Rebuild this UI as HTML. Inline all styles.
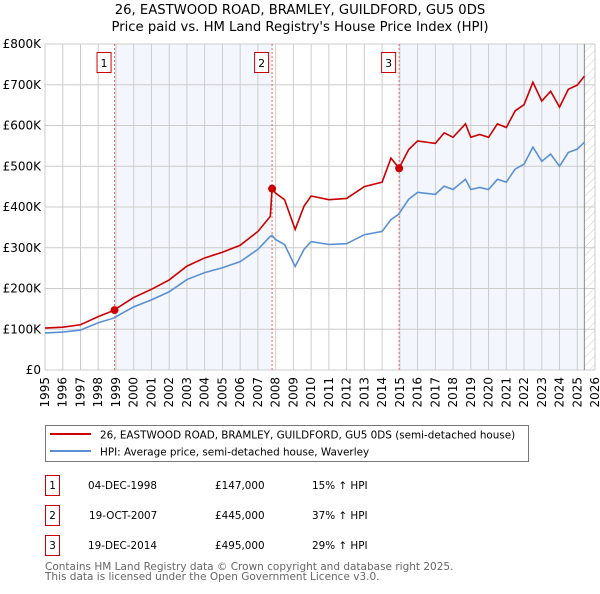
<!DOCTYPE html>
<html><head><meta charset="utf-8"><style>
body{margin:0;background:#fff;font-family:"DejaVu Sans","Liberation Sans",sans-serif;}
svg text{font-family:"DejaVu Sans","Liberation Sans",sans-serif;}
</style></head><body>
<svg id="c" width="600" height="590" xmlns="http://www.w3.org/2000/svg">
<defs><pattern id="hatch" width="6" height="6" patternUnits="userSpaceOnUse" patternTransform="rotate(45)"><line x1="0" y1="0" x2="0" y2="6" stroke="#ccc" stroke-width="1"/></pattern></defs>
<text x="300" y="14" text-anchor="middle" font-size="13.2">26, EASTWOOD ROAD, BRAMLEY, GUILDFORD, GU5 0DS</text>
<text x="300" y="31" text-anchor="middle" font-size="13.2">Price paid vs. HM Land Registry's House Price Index (HPI)</text>
<g id="plot"></g>
<g>
<rect x="45.5" y="425.5" width="483" height="36" fill="#fff" stroke="#777"/>
<line x1="50" y1="434" x2="91" y2="434" stroke="#cc0000" stroke-width="2"/>
<text x="100" y="438.5" font-size="10.4">26, EASTWOOD ROAD, BRAMLEY, GUILDFORD, GU5 0DS (semi-detached house)</text>
<line x1="50" y1="451" x2="91" y2="451" stroke="#5b8fd4" stroke-width="2"/>
<text x="100" y="455.5" font-size="10.4">HPI: Average price, semi-detached house, Waverley</text>
</g>
<g font-size="10.4">
<rect x="45.5" y="475.5" width="14" height="20" fill="#fff" stroke="#cc0000"/><text x="52.5" y="489" text-anchor="middle">1</text>
<text x="88" y="489">04-DEC-1998</text><text x="215" y="489">£147,000</text><text x="312" y="489">15% ↑ HPI</text>
<rect x="45.5" y="505.5" width="14" height="20" fill="#fff" stroke="#cc0000"/><text x="52.5" y="519" text-anchor="middle">2</text>
<text x="89" y="519">19-OCT-2007</text><text x="215" y="519">£445,000</text><text x="312" y="519">37% ↑ HPI</text>
<rect x="45.5" y="535.5" width="14" height="20" fill="#fff" stroke="#cc0000"/><text x="52.5" y="549" text-anchor="middle">3</text>
<text x="88" y="549">19-DEC-2014</text><text x="215" y="549">£495,000</text><text x="312" y="549">29% ↑ HPI</text>
</g>
<text x="45" y="570" font-size="10.5" fill="#666">Contains HM Land Registry data © Crown copyright and database right 2025.</text>
<text x="45" y="580" font-size="10.5" fill="#666">This data is licensed under the Open Government Licence v3.0.</text>
</svg>
<script>
const dates=[1995,1996,1997,1998,1998.92,1999,2000,2001,2002,2003,2004,2005,2006,2007,2007.7,2007.8,2008,2008.5,2009.1,2009.6,2010,2011,2012,2013,2014,2014.5,2014.96,2015,2015.5,2016,2017,2017.5,2018,2018.7,2019,2019.5,2020,2020.5,2021,2021.5,2022,2022.5,2023,2023.5,2024,2024.5,2025,2025.4];
const hpiValues=[91,93,98,116,128,131,155,172,192,222,239,251,266,296,328,330,320,308,254,296,315,308,310,332,340,369,383,387,419,436,431,451,443,468,443,448,443,468,461,493,505,547,512,530,500,534,542,559];
const priceValues=[103,105,111,131,147,150,178,198,221,255,275,289,306,340,377,445,434,418,345,402,427,418,421,450,461,520,495,499,541,562,556,582,571,604,571,578,571,604,595,636,651,706,660,684,645,689,699,721];
const saleDates=[1998.92,2007.8,2014.96];
const saleValues=[147,445,495];
const yTicks=[0,100,200,300,400,500,600,700,800];
const yTickLabels=["£0","£100K","£200K","£300K","£400K","£500K","£600K","£700K","£800K"];
const xTicks=[1995,1996,1997,1998,1999,2000,2001,2002,2003,2004,2005,2006,2007,2008,2009,2010,2011,2012,2013,2014,2015,2016,2017,2018,2019,2020,2021,2022,2023,2024,2025,2026];
const NS="http://www.w3.org/2000/svg";
const L=45,R=595,T=44,B=370,x0=1995,x1=2026,yMax=800;
const xs=v=>L+(v-x0)/(x1-x0)*(R-L);
const ys=v=>B-v/yMax*(B-T);
const g=document.getElementById('plot');
function mk(t,a){const e=document.createElementNS(NS,t);for(const k in a)e.setAttribute(k,a[k]);g.appendChild(e);return e;}
let e;
e=mk('rect',{x:L,y:T,width:R-L,height:B-T,fill:'#fff'});


e=mk('rect',{x:xs(saleDates[0]),y:T,width:xs(saleDates[1])-xs(saleDates[0]),height:B-T,fill:'#eef3fc',opacity:0.7});


e=mk('rect',{x:xs(saleDates[2]),y:T,width:xs(2025.4)-xs(saleDates[2]),height:B-T,fill:'#eef3fc',opacity:0.7});


e=mk('rect',{x:xs(2025.4),y:T,width:R-xs(2025.4),height:B-T,fill:'url(#hatch)'});


xTicks.forEach((v,i)=>{
 e=mk('line',{x1:xs(v),x2:xs(v),y1:T,y2:B,stroke:'#ccc','stroke-width':1});
 
 
 e=mk('text',{x:0,y:0,transform:`translate(${xs(v)+4},${B+7}) rotate(-90)`,'text-anchor':'end','font-size':'12'});
 e.textContent=v;
 
 
});
yTicks.forEach((v,i)=>{
 e=mk('line',{x1:L,x2:R,y1:ys(v),y2:ys(v),stroke:'#ccc','stroke-width':1});
 
 
 e=mk('text',{x:L-4,y:ys(v)+4,'text-anchor':'end','font-size':'12'});
 e.textContent=yTickLabels[i];
 
 
});
e=mk('line',{x1:xs(2025.4),x2:xs(2025.4),y1:T,y2:B,stroke:'#888','stroke-width':1});


saleDates.forEach((d,i)=>{
 e=mk('line',{x1:xs(d),x2:xs(d),y1:T,y2:B,stroke:'#e66','stroke-width':1,'stroke-dasharray':'2,2'});
 
 
 e=mk('rect',{x:xs(d)-17.5,y:52.5,width:14,height:20,fill:'#fff',stroke:'#cc0000'});
 
 
 e=mk('text',{x:xs(d)-10.5,y:67,'text-anchor':'middle','font-size':'11'});
 e.textContent=String(i+1);
 
 
});
e=mk('polyline',{points:dates.map((d,i)=>xs(d)+','+ys(hpiValues[i])).join(' '),fill:'none',stroke:'#5b8fd4','stroke-width':1.6});


e=mk('polyline',{points:dates.map((d,i)=>xs(d)+','+ys(priceValues[i])).join(' '),fill:'none',stroke:'#cc0000','stroke-width':1.6});


saleDates.forEach((d,i)=>{
 e=mk('circle',{cx:xs(d),cy:ys(saleValues[i]),r:4,fill:'#cc0000'});
 
 
});
</script>
</body></html>
